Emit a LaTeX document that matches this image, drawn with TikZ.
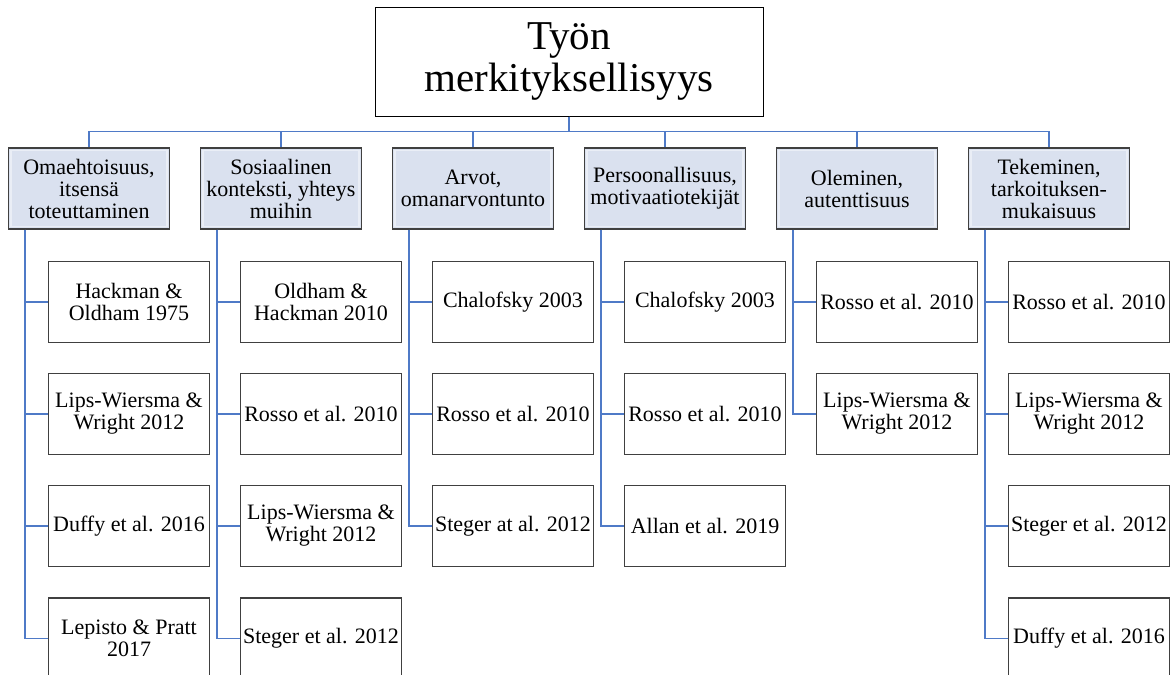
\documentclass[tikz,border=0pt]{standalone}
\usepackage{fontspec}
\setmainfont{Liberation Serif}
\usepackage{tikz}
\usetikzlibrary{positioning}
\definecolor{catfill}{HTML}{DAE1EF}
\definecolor{linkblue}{HTML}{4F7AC7}
\definecolor{boxline}{HTML}{404040}

\begin{document}
\begin{tikzpicture}[
  x=1pt, y=-1pt,
  title/.style={draw=black, line width=1pt, minimum width=388pt,
    minimum height=109pt, align=center, inner sep=2pt,
    font=\fontsize{41}{42}\selectfont},
  catbox/.style={draw=boxline, line width=1.2pt, fill=catfill,
    minimum width=161pt, minimum height=81pt, align=center, inner sep=1pt,
    font=\fontsize{22}{22}\selectfont,
    path picture={\draw[white, opacity=.45, line width=1.6pt]
      ([shift={(2.5pt,-2.5pt)}]path picture bounding box.north west)
      rectangle ([shift={(-2.5pt,2.5pt)}]path picture bounding box.south east);}},
  refbox/.style={draw=boxline, line width=1.2pt, fill=white,
    minimum width=161pt, minimum height=81pt, align=center, inner sep=1pt,
    font=\fontsize{22}{22}\selectfont},
  link/.style={draw=linkblue, line width=1.4pt}
]
\useasboundingbox (0,0) rectangle (1171,675);

% Tyon merkityksellisyys
\node[title] (top) at (569,61.5) {Työn\\merkityksellisyys};

% main themes
\node[catbox] (omaeh) at (89,188.5) {Omaehtoisuus,\\itsensä\\toteuttaminen};
\node[catbox] (sosiaal) at (281,188.5) {Sosiaalinen\\konteksti, yhteys\\muihin};
\node[catbox] (arvot) at (473,188.5) {Arvot,\\omanarvontunto};
\node[catbox] (persoon) at (665,188.5) {Persoonallisuus,\\motivaatiotekijät};
\node[catbox] (olem) at (857,188.5) {Oleminen,\\autenttisuus};
\node[catbox] (tekem) at (1049,188.5) {Tekeminen,\\tarkoituksen-\\mukaisuus};

% top -> themes
\draw[link] (top.south) -- ++(0,15) -| (omaeh.north);
\draw[link] (top.south) -- ++(0,15) -| (sosiaal.north);
\draw[link] (top.south) -- ++(0,15) -| (arvot.north);
\draw[link] (top.south) -- ++(0,15) -| (persoon.north);
\draw[link] (top.south) -- ++(0,15) -| (olem.north);
\draw[link] (top.south) -- ++(0,15) -| (tekem.north);

% sources, Omaehtoisuus
\node[refbox] (omaeh1) at (129,302) {Hackman \&\\Oldham 1975};
\node[refbox] (omaeh2) at (129,414) {Lips-Wiersma \&\\Wright 2012};
\node[refbox] (omaeh3) at (129,526) {Duffy et al. 2016};
\node[refbox] (omaeh4) at (129,638.5) {Lepisto \& Pratt\\2017};

% sources, Sosiaalinen konteksti
\node[refbox] (sosiaal1) at (321,302) {Oldham \&\\Hackman 2010};
\node[refbox] (sosiaal2) at (321,414) {Rosso et al. 2010};
\node[refbox] (sosiaal3) at (321,526) {Lips-Wiersma \&\\Wright 2012};
\node[refbox] (sosiaal4) at (321,638.5) {Steger et al. 2012};

% sources, Arvot
\node[refbox] (arvot1) at (513,302) {Chalofsky 2003};
\node[refbox] (arvot2) at (513,414) {Rosso et al. 2010};
\node[refbox] (arvot3) at (513,526) {Steger at al. 2012};

% sources, Persoonallisuus
\node[refbox] (persoon1) at (705,302) {Chalofsky 2003};
\node[refbox] (persoon2) at (705,414) {Rosso et al. 2010};
\node[refbox] (persoon3) at (705,526) {Allan et al. 2019};

% sources, Oleminen
\node[refbox] (olem1) at (897,302) {Rosso et al. 2010};
\node[refbox] (olem2) at (897,414) {Lips-Wiersma \&\\Wright 2012};

% sources, Tekeminen
\node[refbox] (tekem1) at (1089,302) {Rosso et al. 2010};
\node[refbox] (tekem2) at (1089,414) {Lips-Wiersma \&\\Wright 2012};
\node[refbox] (tekem3) at (1089,526) {Steger et al. 2012};
\node[refbox] (tekem4) at (1089,638.5) {Duffy et al. 2016};

% themes -> sources
\draw[link] ([xshift=17pt]omaeh.south west) |- (omaeh1.west);
\draw[link] ([xshift=17pt]omaeh.south west) |- (omaeh2.west);
\draw[link] ([xshift=17pt]omaeh.south west) |- (omaeh3.west);
\draw[link] ([xshift=17pt]omaeh.south west) |- (omaeh4.west);
\draw[link] ([xshift=17pt]sosiaal.south west) |- (sosiaal1.west);
\draw[link] ([xshift=17pt]sosiaal.south west) |- (sosiaal2.west);
\draw[link] ([xshift=17pt]sosiaal.south west) |- (sosiaal3.west);
\draw[link] ([xshift=17pt]sosiaal.south west) |- (sosiaal4.west);
\draw[link] ([xshift=17pt]arvot.south west) |- (arvot1.west);
\draw[link] ([xshift=17pt]arvot.south west) |- (arvot2.west);
\draw[link] ([xshift=17pt]arvot.south west) |- (arvot3.west);
\draw[link] ([xshift=17pt]persoon.south west) |- (persoon1.west);
\draw[link] ([xshift=17pt]persoon.south west) |- (persoon2.west);
\draw[link] ([xshift=17pt]persoon.south west) |- (persoon3.west);
\draw[link] ([xshift=17pt]olem.south west) |- (olem1.west);
\draw[link] ([xshift=17pt]olem.south west) |- (olem2.west);
\draw[link] ([xshift=17pt]tekem.south west) |- (tekem1.west);
\draw[link] ([xshift=17pt]tekem.south west) |- (tekem2.west);
\draw[link] ([xshift=17pt]tekem.south west) |- (tekem3.west);
\draw[link] ([xshift=17pt]tekem.south west) |- (tekem4.west);
\end{tikzpicture}
\end{document}
